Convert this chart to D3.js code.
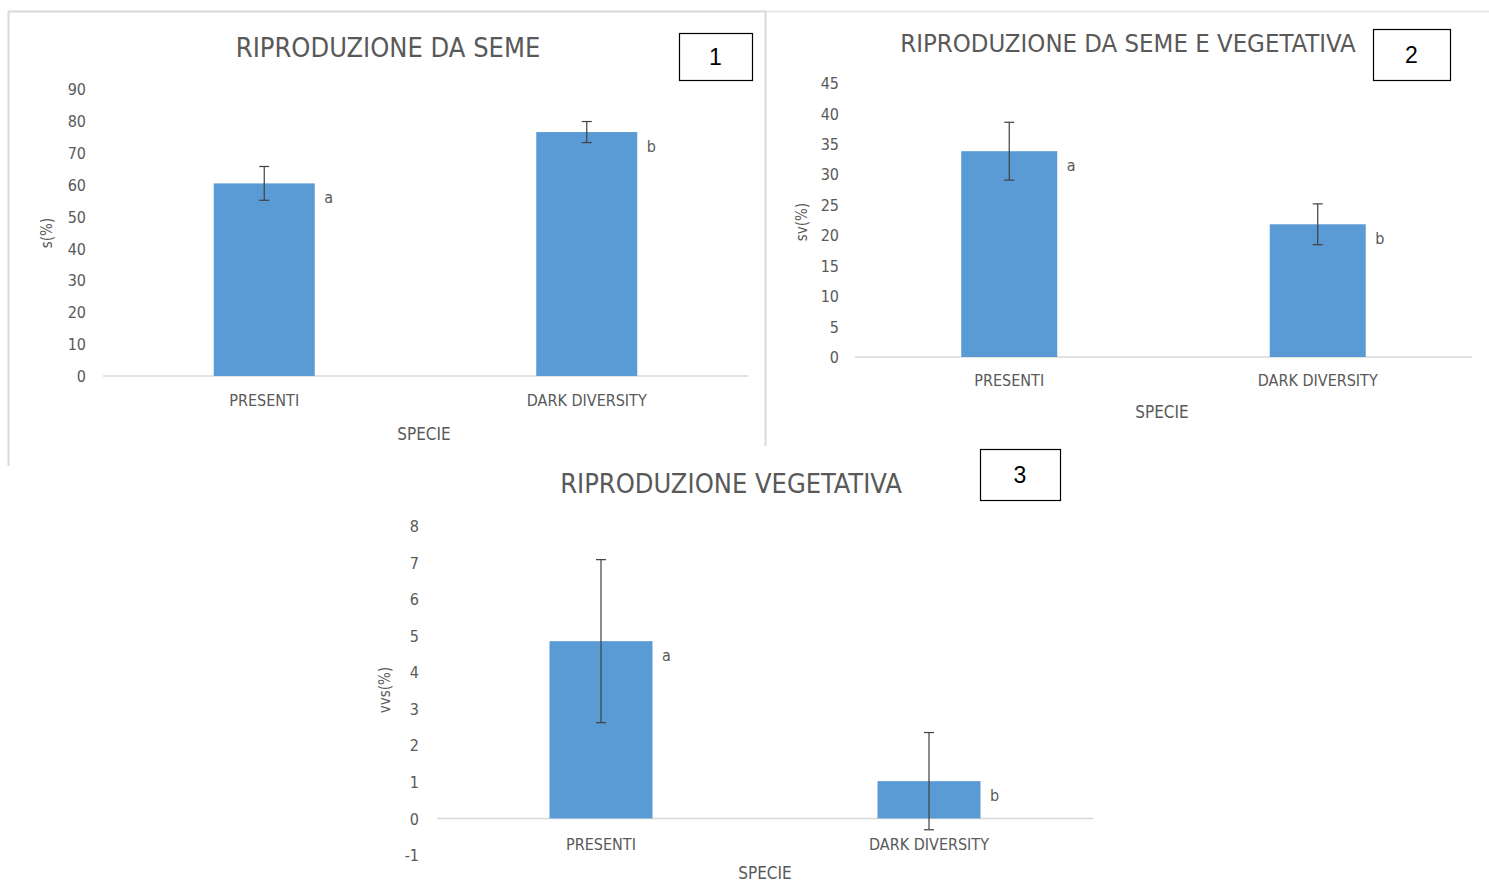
<!DOCTYPE html>
<html><head><meta charset="utf-8">
<script src="https://cdn.jsdelivr.net/npm/d3@7/dist/d3.min.js"></script>
<style>
body{margin:0;background:#fff;}
text{font-family:"Liberation Sans Narrow","DejaVu Sans Condensed","Liberation Sans",sans-serif;}
</style></head>
<body><svg id="c" width="1489" height="883"></svg>
<script>
const categories = ["PRESENTI", "DARK DIVERSITY"];
const titles = ["RIPRODUZIONE DA SEME", "RIPRODUZIONE DA SEME E VEGETATIVA", "RIPRODUZIONE VEGETATIVA"];
const yLabels = ["s(%)", "sv(%)", "vvs(%)"];
const panelNumbers = ["1", "2", "3"];
const xTitle = "SPECIE";
const seedValues = [60.4, 76.5];
const seedErrors = [5.3, 3.3];
const seedVegValues = [33.8, 21.8];
const seedVegErrors = [4.75, 3.35];
const vegValues = [4.85, 1.02];
const vegErrors = [2.23, 1.33];
const letters = ["a", "b"];
const ticks1 = [0,10,20,30,40,50,60,70,80,90];
const ticks2 = [0,5,10,15,20,25,30,35,40,45];
const ticks3 = [-1,0,1,2,3,4,5,6,7,8];

const svg = d3.select("#c");
const grey = "#595959";

// panel frame lines
svg.append("path").attr("d","M8.5,466 V11.5 H765.5 V446").attr("fill","none").attr("stroke","#d9d9d9").attr("stroke-width",2);
svg.append("line").attr("x1",765).attr("x2",1489).attr("y1",11.5).attr("y2",11.5).attr("stroke","#e3e3e3").attr("stroke-width",1.5);

const panels = [
  {vals:seedValues, errs:seedErrors, ticks:ticks1, dom:[0,90], yr:[376,89], xr:[103,748], bw:101,
   tickX:86, title:titles[0], tfs:27, tx:388, ty:57, yl:yLabels[0], ylx:52, yly:233, catY:406, spY:440, spX:424,
   box:[679,33,73,47], num:panelNumbers[0], letDx:14},
  {vals:seedVegValues, errs:seedVegErrors, ticks:ticks2, dom:[0,45], yr:[357,83], xr:[855,1472], bw:96,
   tickX:839, title:titles[1], tfs:25.5, tx:1128, ty:52, yl:yLabels[1], ylx:807, yly:222, catY:386, spY:418, spX:1162,
   box:[1373,29,77,51], num:panelNumbers[1], letDx:14},
  {vals:vegValues, errs:vegErrors, ticks:ticks3, dom:[-1,8], yr:[855,526], xr:[437,1093], bw:103,
   tickX:419, title:titles[2], tfs:27, tx:731, ty:493, yl:yLabels[2], ylx:390, yly:690, catY:850, spY:879, spX:765,
   box:[980,449,80,51], num:panelNumbers[2], letDx:14}
];

panels.forEach(p => {
  const g = svg.append("g");
  const y = d3.scaleLinear().domain(p.dom).range(p.yr);
  const x = d3.scaleBand().domain(categories).range(p.xr).paddingInner(0.5).paddingOuter(0.25);
  // y tick labels
  const ya = g.append("g").attr("transform",`translate(${p.tickX},0)`)
    .call(d3.axisLeft(y).tickValues(p.ticks).tickSize(0).tickPadding(0).tickFormat(d => String(d)));
  ya.select(".domain").remove();
  ya.selectAll("text").attr("fill",grey).attr("font-size",16).attr("dy","0.35em");
  // baseline
  g.append("line").attr("x1",p.xr[0]).attr("x2",p.xr[1]).attr("y1",y(0)).attr("y2",y(0)).attr("stroke","#d9d9d9").attr("stroke-width",1.5);
  // bars
  categories.forEach((c,i) => {
    const cx = x(c) + x.bandwidth()/2;
    g.append("rect").attr("x",cx - p.bw/2).attr("width",p.bw)
      .attr("y",y(p.vals[i])).attr("height",y(0)-y(p.vals[i])).attr("fill","#5B9BD5");
    const hi = y(p.vals[i]+p.errs[i]), lo = y(p.vals[i]-p.errs[i]);
    g.append("line").attr("x1",cx).attr("x2",cx).attr("y1",hi).attr("y2",lo).attr("stroke","#404040").attr("stroke-width",1.2);
    [hi,lo].forEach(yy => g.append("line").attr("x1",cx-5).attr("x2",cx+5).attr("y1",yy).attr("y2",yy).attr("stroke","#404040").attr("stroke-width",1.2));
    g.append("text").attr("x",cx + p.bw/2 + p.letDx).attr("y",y(p.vals[i])+20).attr("text-anchor","middle")
      .attr("fill",grey).attr("font-size",16).text(letters[i]);
    g.append("text").attr("x",cx).attr("y",p.catY).attr("text-anchor","middle").attr("fill",grey).attr("font-size",16).text(c);
  });
  g.append("text").attr("x",p.spX).attr("y",p.spY).attr("text-anchor","middle").attr("fill",grey).attr("font-size",17).text(xTitle);
  g.append("text").attr("transform",`translate(${p.ylx},${p.yly}) rotate(-90)`).attr("text-anchor","middle")
    .attr("fill",grey).attr("font-size",15).text(p.yl);
  g.append("text").attr("x",p.tx).attr("y",p.ty).attr("text-anchor","middle").attr("fill",grey).attr("font-size",p.tfs).text(p.title);
  g.append("rect").attr("x",p.box[0]+0.5).attr("y",p.box[1]+0.5).attr("width",p.box[2]).attr("height",p.box[3])
    .attr("fill","#fff").attr("stroke","#000").attr("stroke-width",1.2);
  g.append("text").attr("x",p.box[0]+p.box[2]/2).attr("y",p.box[1]+p.box[3]/2+8).attr("text-anchor","middle")
    .attr("fill","#000").attr("font-size",23).style("font-family","'Liberation Sans','DejaVu Sans',sans-serif").text(p.num);
});
</script></body></html>
